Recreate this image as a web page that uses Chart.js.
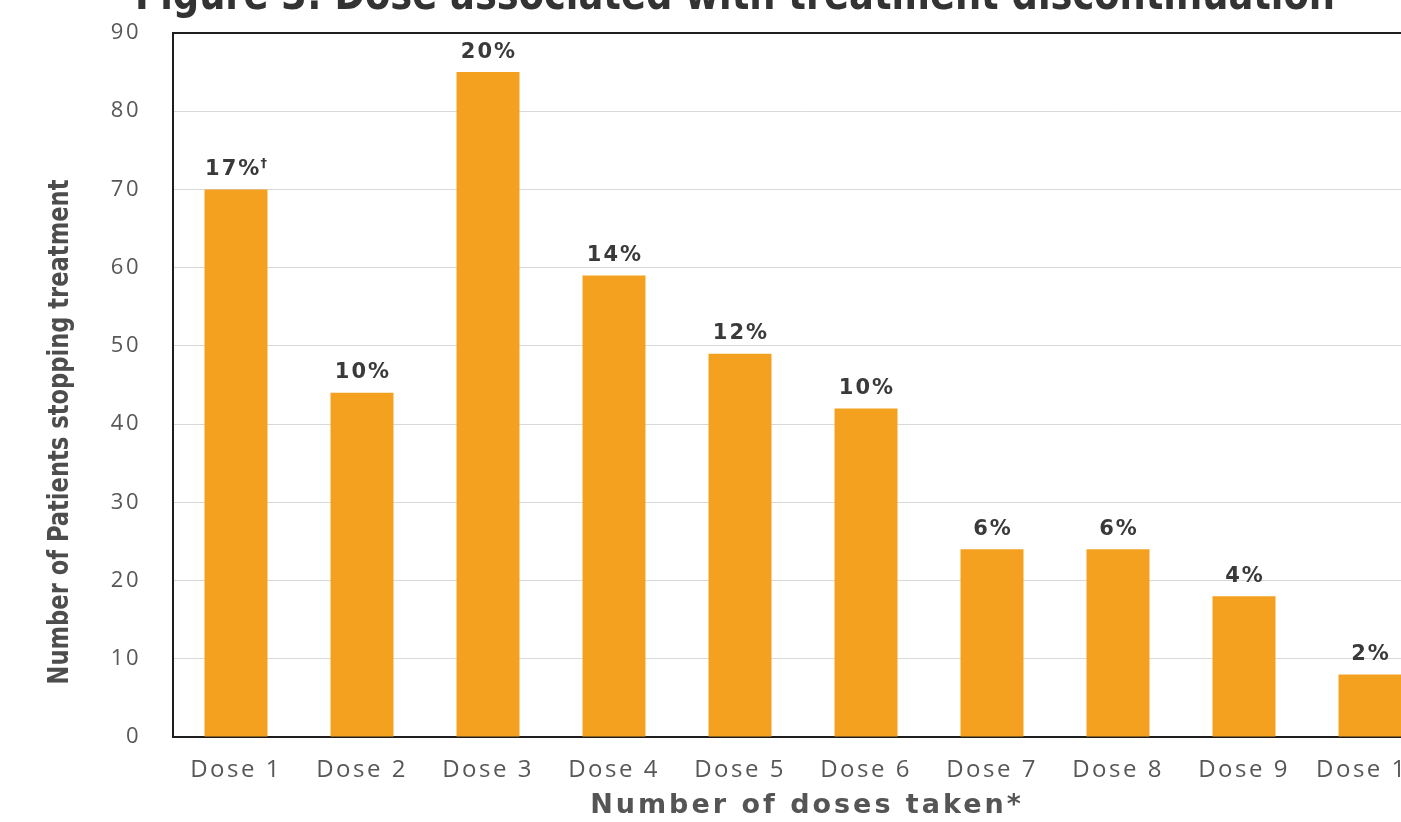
<!DOCTYPE html>
<html>
<head>
<meta charset="utf-8">
<script src="https://cdn.jsdelivr.net/npm/chart.js@4.4.1/dist/chart.umd.min.js"></script>
<style>
  html, body { margin: 0; padding: 0; background: #fff; overflow: hidden; }
  #wrap { position: relative; width: 1440px; height: 822px; }
</style>
</head>
<body>
<div id="wrap"><canvas id="doseChart"></canvas></div>
<script>
// Doses and patients who stopped treatment after each one
const doseLabels = ['Dose 1', 'Dose 2', 'Dose 3', 'Dose 4', 'Dose 5', 'Dose 6', 'Dose 7', 'Dose 8', 'Dose 9', 'Dose 10'];
const patientsStopping = [70, 44, 85, 59, 49, 42, 24, 24, 18, 8];
const percentLabels = ['17%', '10%', '20%', '14%', '12%', '10%', '6%', '6%', '4%', '2%'];
const footnoteMarks = ['†', '', '', '', '', '', '', '', '', ''];

const figureTitle = 'Figure 3: Dose associated with treatment discontinuation';
const yTitle = 'Number of Patients stopping treatment';
const xTitle = 'Number of doses taken*';

const condensedBold = '"Liberation Sans Narrow", "DejaVu Sans Condensed", sans-serif';

// draw text squeezed/stretched horizontally to a given length
function fitText(ctx, text, x, y, length) {
  const w = ctx.measureText(text).width;
  ctx.save();
  ctx.translate(x, y);
  ctx.scale(length / w, 1);
  ctx.fillText(text, 0, 0);
  ctx.restore();
}

// Titles and the percent labels above the bars
const textLayer = {
  id: 'textLayer',
  beforeDraw(chart) {
    // tick labels are tracked out a little
    chart.ctx.letterSpacing = '2.5px';
  },
  afterDatasetsDraw(chart) {
    const ctx = chart.ctx;
    const bars = chart.getDatasetMeta(0).data;
    const mainFont = 'bold 21px "DejaVu Sans", sans-serif';
    const markFont = 'bold 13px "DejaVu Sans", sans-serif';
    ctx.save();
    ctx.fillStyle = '#3a3a3a';
    ctx.textBaseline = 'middle';
    ctx.textAlign = 'left';
    bars.forEach((bar, i) => {
      const main = percentLabels[i];
      const mark = footnoteMarks[i];
      ctx.letterSpacing = '2px';
      ctx.font = mainFont;
      const mw = ctx.measureText(main).width - 2;
      ctx.letterSpacing = '0px';
      ctx.font = markFont;
      const dw = mark ? ctx.measureText(mark).width + 1 : 0;
      const x0 = bar.x - (mw + dw) / 2;
      const y = bar.y - 20;
      ctx.letterSpacing = '2px';
      ctx.font = mainFont;
      ctx.fillText(main, x0, y);
      if (mark) {
        ctx.letterSpacing = '0px';
        ctx.font = markFont;
        ctx.fillText(mark, x0 + mw + 1, y - 6);
      }
    });
    ctx.restore();
  },
  afterDraw(chart) {
    const ctx = chart.ctx;
    const area = chart.chartArea;
    ctx.save();
    ctx.letterSpacing = '0px';
    ctx.textAlign = 'center';

    // figure title, partly above the top edge
    ctx.fillStyle = '#333333';
    ctx.font = 'bold 44px ' + condensedBold;
    ctx.textBaseline = 'alphabetic';
    fitText(ctx, figureTitle, 735, 9, 1200);

    // y axis title
    ctx.fillStyle = '#4d4d4d';
    ctx.font = 'bold 29px ' + condensedBold;
    ctx.textBaseline = 'middle';
    ctx.save();
    ctx.translate(60, (area.top + area.bottom) / 2 + 47);
    ctx.rotate(-Math.PI / 2);
    fitText(ctx, yTitle, 0, 0, 505);
    ctx.restore();

    // x axis title
    ctx.fillStyle = '#555555';
    ctx.letterSpacing = '3px';
    ctx.font = 'bold 27px "DejaVu Sans", sans-serif';
    ctx.fillText(xTitle, (area.left + area.right) / 2 + 4, 806);
    ctx.restore();
  }
};

const ctxDose = document.getElementById('doseChart').getContext('2d');
const doseChart = new Chart(ctxDose, {
  type: 'bar',
  data: {
    labels: doseLabels,
    datasets: [{
      label: 'Patients stopping treatment',
      data: patientsStopping,
      backgroundColor: '#F3A11F',
      borderWidth: 0,
      barPercentage: 0.5,
      categoryPercentage: 1.0
    }]
  },
  options: {
    responsive: true,
    maintainAspectRatio: false,
    animation: false,
    layout: { padding: { top: 33, right: 7, left: 0, bottom: 0 } },
    plugins: {
      legend: { display: false },
      tooltip: { enabled: false }
    },
    scales: {
      x: {
        grid: { display: false, drawTicks: false },
        border: { display: true, color: '#1e1e1e', width: 2 },
        ticks: {
          color: '#575757',
          font: { family: '"Open Sans", sans-serif', size: 24 },
          padding: 19,
          autoSkip: false,
          maxRotation: 0
        },
        afterFit(scale) {
          scale.height = 85;
          scale.paddingLeft = 0;
          scale.paddingRight = 0;
        }
      },
      y: {
        min: 0,
        max: 90,
        grid: {
          drawTicks: false,
          color: (c) => (c.tick && c.tick.value === 90 ? '#1e1e1e' : '#d9d9d9'),
          lineWidth: (c) => (c.tick && c.tick.value === 90 ? 2 : 1)
        },
        border: { display: true, color: '#1e1e1e', width: 2 },
        ticks: {
          stepSize: 10,
          color: '#575757',
          font: { family: '"Open Sans", sans-serif', size: 22 },
          padding: 32
        },
        afterFit(scale) {
          scale.width = 173;
          scale.paddingTop = 0;
          scale.paddingBottom = 0;
        }
      }
    }
  },
  plugins: [textLayer]
});
</script>
</body>
</html>
